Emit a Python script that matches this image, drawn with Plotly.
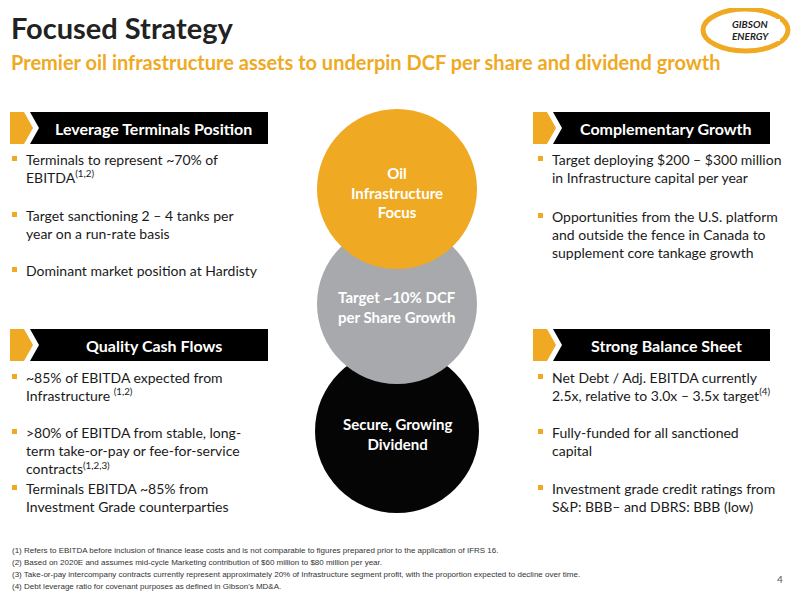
import plotly.graph_objects as go

title = "Focused Strategy"
subtitle = "Premier oil infrastructure assets to underpin DCF per share and dividend growth"
banners = ["Leverage Terminals Position", "Complementary Growth", "Quality Cash Flows", "Strong Balance Sheet"]
circle_labels = ["Oil<br>Infrastructure<br>Focus", "Target ~10% DCF<br>per Share Growth", "Secure, Growing<br>Dividend"]
bullets_tl = ["Terminals to represent ~70% of<br>EBITDA<sup>(1,2)</sup>", "Target sanctioning 2 – 4 tanks per<br>year on a run-rate basis", "Dominant market position at Hardisty"]
bullets_tr = ["Target deploying $200 – $300 million<br>in Infrastructure capital per year", "Opportunities from the U.S. platform<br>and outside the fence in Canada to<br>supplement core tankage growth"]
bullets_bl = ["~85% of EBITDA expected from<br>Infrastructure <sup>(1,2)</sup>", ">80% of EBITDA from stable, long-<br>term take-or-pay or fee-for-service<br>contracts<sup>(1,2,3)</sup>", "Terminals EBITDA ~85% from<br>Investment Grade counterparties"]
bullets_br = ["Net Debt / Adj. EBITDA currently<br>2.5x, relative to 3.0x – 3.5x target<sup>(4)</sup>", "Fully-funded for all sanctioned<br>capital", "Investment grade credit ratings from<br>S&P: BBB– and DBRS: BBB (low)"]
footnotes = ["(1) Refers to EBITDA before inclusion of finance lease costs and is not comparable to figures prepared prior to the application of IFRS 16.",
             "(2) Based on 2020E and assumes mid-cycle Marketing contribution of $60 million to $80 million per year.",
             "(3) Take-or-pay intercompany contracts currently represent approximately 20% of Infrastructure segment profit, with the proportion expected to decline over time.",
             "(4) Debt leverage ratio for covenant purposes as defined in Gibson's MD&A."]

ORANGE = "#EFA923"
F = "Lato, Open Sans, sans-serif"
fig = go.Figure()
shapes, ann = [], []

def txt(x, y, t, size, color="#1a1a1a", bold=False, xa="left", font=F):
    ann.append(dict(x=x, y=y, text=f"<b>{t}</b>" if bold else t, showarrow=False, xanchor=xa, yanchor="middle",
                    align=xa if xa != "center" else "center", font=dict(size=size, color=color, family=font)))

txt(11, 28, title, 29, "#222222", True)
txt(11, 63, subtitle, 20, ORANGE, True)

# logo
shapes.append(dict(type="circle", x0=705, y0=10, x1=790, y1=52, line=dict(color=ORANGE, width=5)))
shapes.append(dict(type="rect", x0=722, y0=20, x1=782, y1=42, fillcolor="white", line=dict(width=0)))
txt(752, 25, "<i>GIBSON</i>", 10, "#222", True, "center")
txt(752, 37, "<i>ENERGY</i>", 10, "#222", True, "center")

def banner(x0, x1, y0, label):
    y1, ym = y0 + 32, y0 + 16
    shapes.append(dict(type="path", path=f"M{x0},{y0} L{x0+14},{y0} L{x0+23},{ym} L{x0+14},{y1} L{x0},{y1} Z",
                       fillcolor=ORANGE, line=dict(width=0)))
    shapes.append(dict(type="path", path=f"M{x0+20},{y0} L{x1},{y0} L{x1},{y1} L{x0+20},{y1} L{x0+29},{ym} Z",
                       fillcolor="black", line=dict(width=0)))
    txt((x0 + 29 + x1) / 2, ym, label, 16, "white", True, "center")

banner(12, 270, 113, banners[0])
banner(535, 772, 113, banners[1])
banner(12, 270, 330, banners[2])
banner(535, 772, 330, banners[3])

def bullets(x, ys, items):
    for y, t in zip(ys, items):
        shapes.append(dict(type="rect", x0=x, y0=y - 3, x1=x + 5, y1=y + 2, fillcolor=ORANGE, line=dict(width=0)))
        ann.append(dict(x=x + 12, y=y - 10, text=t, showarrow=False, xanchor="left", yanchor="top", align="left",
                        font=dict(size=14, color="#1a1a1a", family=F)))

bullets(14, [160, 216, 271], bullets_tl)
bullets(540, [160, 217], bullets_tr)
bullets(14, [378, 433, 489], bullets_bl)
bullets(540, [378, 433, 489], bullets_br)

# circles
circ = [(399, 432, 82, "#050505"), (399, 305, 80, "#A7A9AC"), (399, 190, 80, ORANGE)]
for cx, cy, r, c in circ:
    shapes.append(dict(type="circle", x0=cx - r, y0=cy - r, x1=cx + r, y1=cy + r, fillcolor=c, line=dict(width=0)))
for (cx, cy, r, c), lab in zip(circ[::-1], circle_labels):
    txt(cx, cy + 3, lab, 15, "white", True, "center")

for i, fn in enumerate(footnotes):
    txt(12, 551 + i * 12, fn, 8, "#333", False, "left", "Liberation Sans Narrow, Arial Narrow, sans-serif")
txt(782, 580, "4", 10, "#555", False, "center")

fig.update_layout(width=790, height=591, margin=dict(l=0, r=0, t=0, b=0), plot_bgcolor="white", paper_bgcolor="white",
                  xaxis=dict(range=[10, 800], visible=False, fixedrange=True),
                  yaxis=dict(range=[600, 9], visible=False, fixedrange=True),
                  shapes=shapes, annotations=ann, showlegend=False)
fig.write_html("out.html")
